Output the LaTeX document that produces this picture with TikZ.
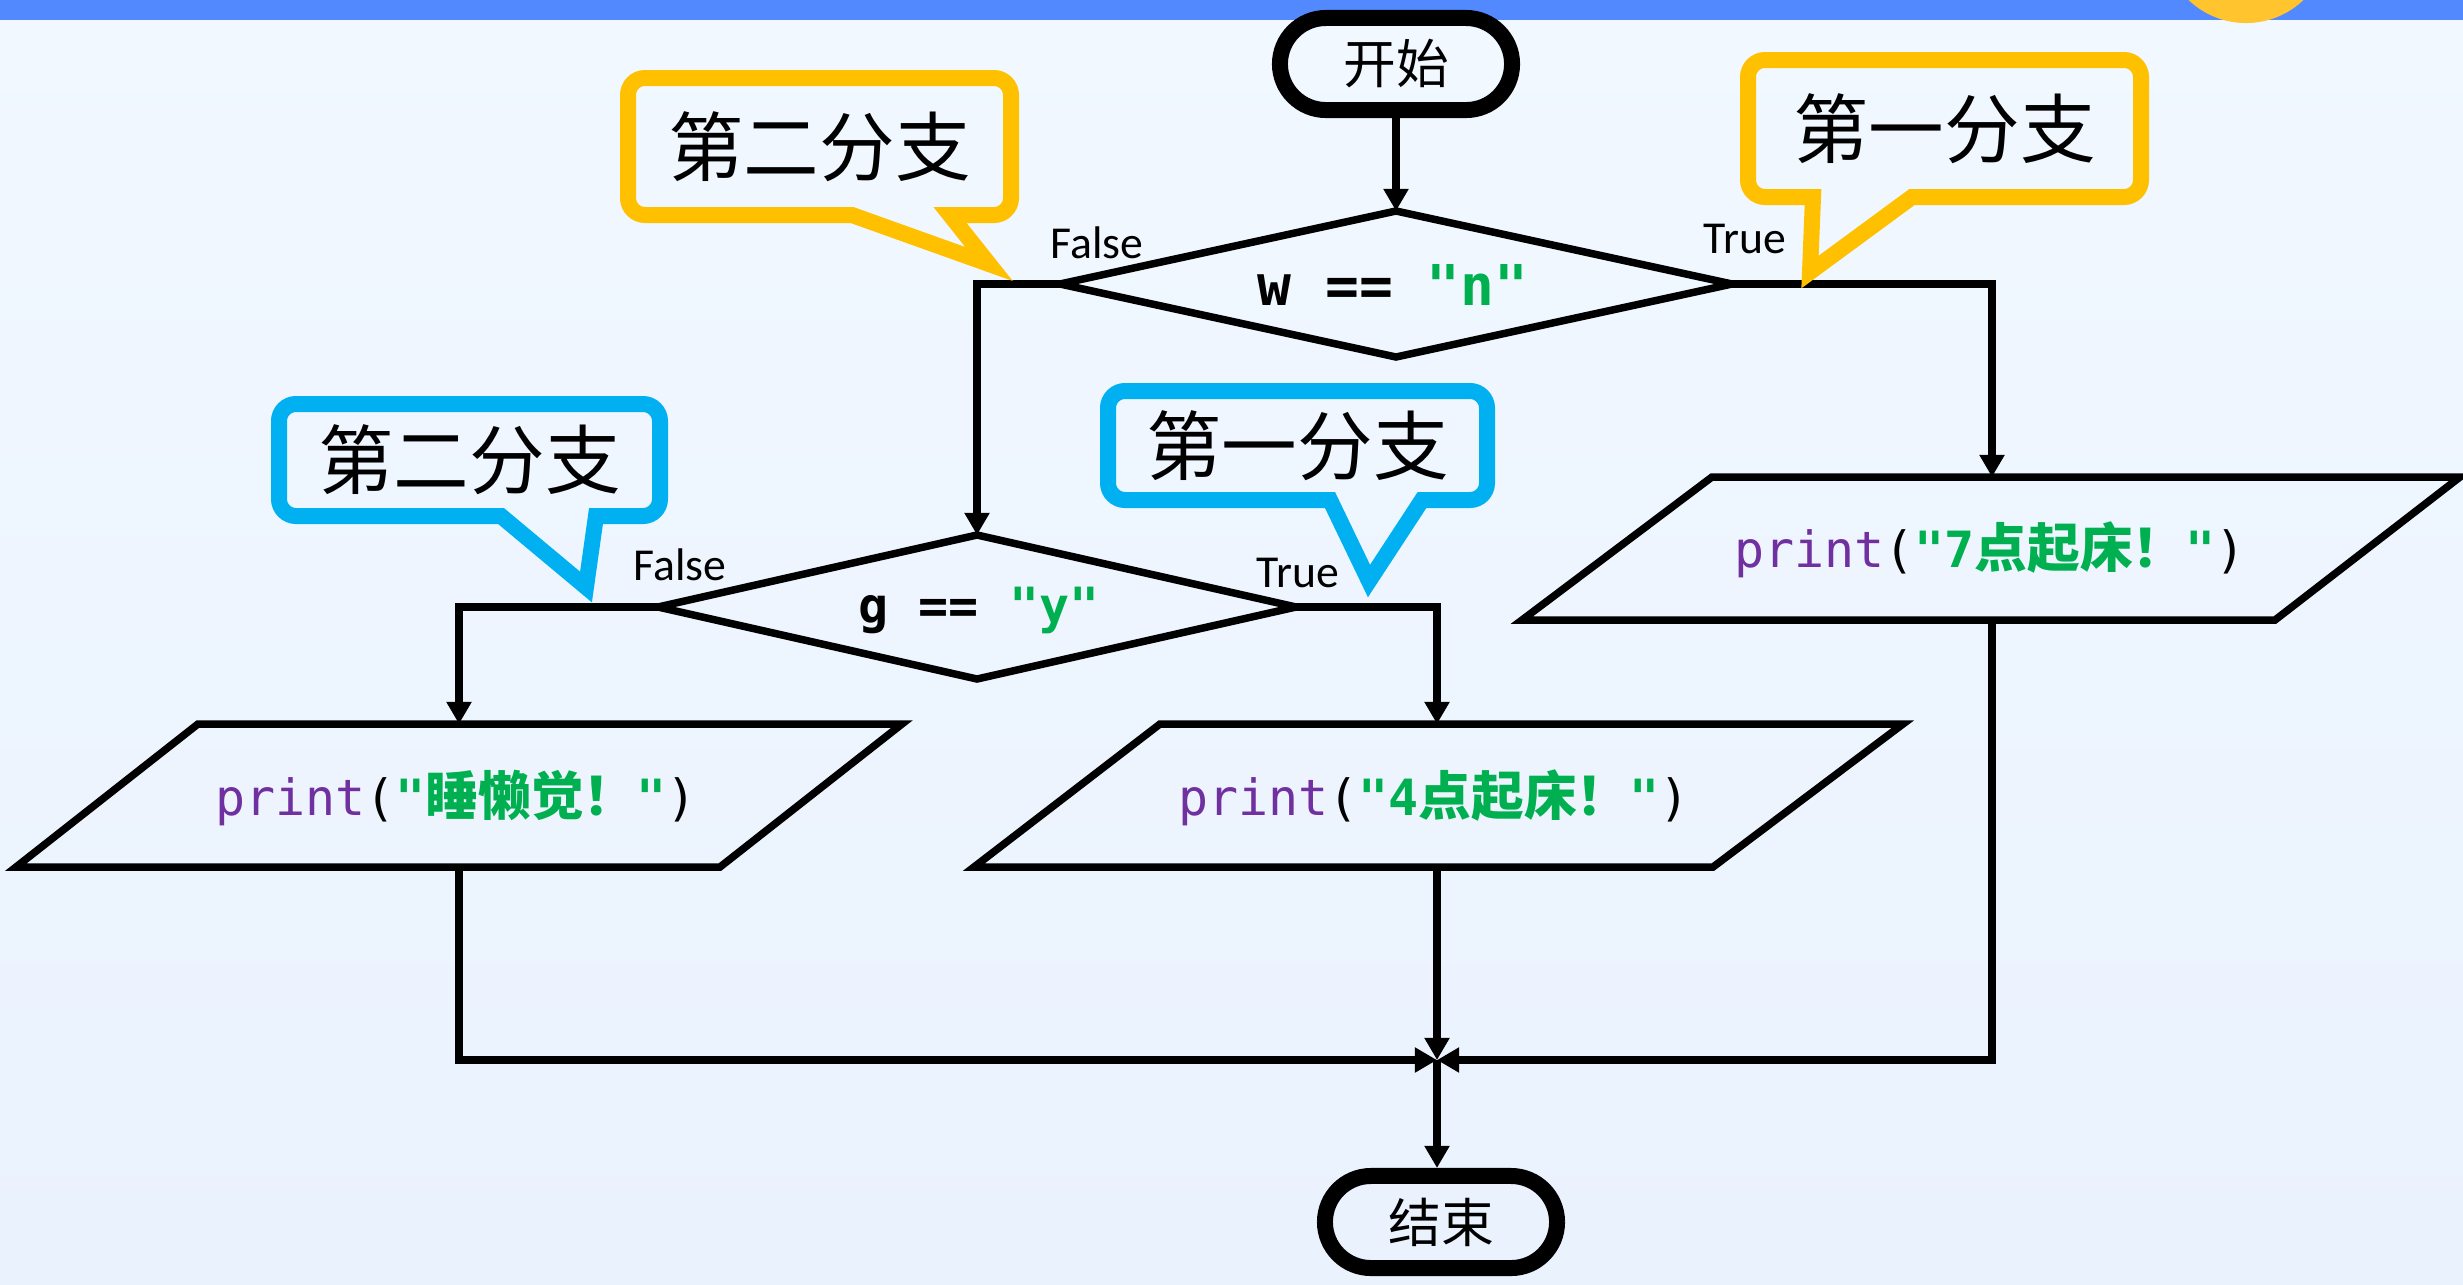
\documentclass[tikz,border=0pt]{standalone}
\usepackage{fontspec}
\setmainfont{Carlito}
\newfontfamily\cjk{Noto Sans CJK SC}
\newfontfamily\mono{DejaVu Sans Mono}
\usetikzlibrary{arrows.meta}
\definecolor{cyel}{HTML}{FFC000}
\definecolor{cblu}{HTML}{00B0F0}
\definecolor{cgrn}{HTML}{00B050}
\definecolor{cpur}{HTML}{7030A0}
\definecolor{band}{RGB}{82,137,255}
\definecolor{bgtop}{RGB}{241,248,255}
\definecolor{bgbot}{RGB}{234,242,254}
\definecolor{corange}{RGB}{255,196,46}
\newcommand\pstr[1]{{\cjk\bfseries\fontsize{15pt}{18pt}\selectfont #1}}
% callout outline: #1 colour, #2 x0, #3 y0, #4 x1, #5 y1, #6 tail left x, #7 tip x, #8 tip y, #9 tail right x
\newcommand\mybubble[9]{%
  \draw[line width=4.55pt,draw=#1,line join=miter,miter limit=10]
  ({#2+17},#3) -- ({#4-17},#3) .. controls ({#4-7.6},#3) and (#4,{#3+7.6}) .. (#4,{#3+17})
  -- (#4,{#5-17}) .. controls (#4,{#5-7.6}) and ({#4-7.6},#5) .. ({#4-17},#5)
  -- (#9,#5) -- (#7,#8) -- (#6,#5)
  -- ({#2+17},#5) .. controls ({#2+7.6},#5) and (#2,{#5-7.6}) .. (#2,{#5-17})
  -- (#2,{#3+17}) .. controls (#2,{#3+7.6}) and ({#2+7.6},#3) .. ({#2+17},#3) -- cycle;}
\begin{document}
\begin{tikzpicture}[x=0.01cm,y=-0.01cm,
  shp/.style={draw=black,line width=2.13pt,line join=miter},
  conn/.style={draw=black,line width=2.13pt,-{Triangle[length=6.3pt,width=6.8pt]}},
  term/.style={draw=black,line width=4.55pt,rounded corners=0.46cm,minimum width=2.32cm,minimum height=0.92cm,inner sep=0pt,font=\cjk\fontsize{15pt}{18pt}\selectfont},
  lbl/.style={inner sep=0pt,anchor=base west,font=\fontsize{13pt}{15pt}\selectfont},
  code/.style={inner sep=0pt,anchor=base,font=\mono\fontsize{14.2pt}{17pt}\selectfont},
  tag/.style={inner sep=0pt,font=\cjk\fontsize{21.5pt}{26pt}\selectfont}]
\useasboundingbox (0,0) rectangle (2463,1284);
\shade[top color=bgtop,bottom color=bgbot] (0,0) rectangle (2463,1284);
\fill[band] (0,0) rectangle (2463,20);
\begin{scope}
  \clip (0,0) rectangle (2463,1284);
  \fill[corange] (2246,-60) circle[radius=0.83cm];
\end{scope}

% terminals
\node[term] (start) at (1396,64) {开始};
\node[term] (stop) at (1441,1222) {结束};

% decision 1
\coordinate (d1n) at (1396,211);
\coordinate (d1e) at (1732,284);
\coordinate (d1s) at (1396,357);
\coordinate (d1w) at (1060,284);
\draw[shp] (d1n) -- (d1e) -- (d1s) -- (d1w) -- cycle;
\node[code,font=\mono\bfseries\fontsize{16pt}{19pt}\selectfont] (d1) at (1393,305) {w == \textcolor{cgrn}{"n"}};

% decision 2
\coordinate (d2n) at (977,535);
\coordinate (d2e) at (1296,607);
\coordinate (d2s) at (977,679);
\coordinate (d2w) at (658,607);
\draw[shp] (d2n) -- (d2e) -- (d2s) -- (d2w) -- cycle;
\node[code,font=\mono\bfseries\fontsize{14.2pt}{17pt}\selectfont] (d2) at (979,623) {g == \textcolor{cgrn}{"y"}};

% output 1
\draw[shp] (198,724) -- (902,724) -- (720,867) -- (16,867) -- cycle;
\coordinate (p1n) at (459,724);
\coordinate (p1s) at (459,867);
\node[code] (p1) at (456,815) {\textcolor{cpur}{print}(\textcolor{cgrn}{\bfseries"\pstr{睡懒觉！}"})};

% output 2
\draw[shp] (1160,724) -- (1903,724) -- (1713,867) -- (974,867) -- cycle;
\coordinate (p2n) at (1437,724);
\coordinate (p2s) at (1437,867);
\node[code] (p2) at (1434,815) {\textcolor{cpur}{print}(\textcolor{cgrn}{\bfseries"4\pstr{点起床！}"})};

% output 3
\draw[shp] (1712,477) -- (2460,477) -- (2275,620) -- (1522,620) -- cycle;
\coordinate (p3n) at (1992,477);
\coordinate (p3s) at (1992,620);
\node[code] (p3) at (1990,567) {\textcolor{cpur}{print}(\textcolor{cgrn}{\bfseries"7\pstr{点起床！}"})};

% connectors
\coordinate (m) at (1437,1060);
\draw[conn] (start.south) -- (d1n);
\draw[conn] (d1w) -| (d2n);
\draw[conn] (d1e) -| (p3n);
\draw[conn] (d2w) -| (p1n);
\draw[conn] (d2e) -| (p2n);
\draw[conn] (p2s) -- (m);
\draw[conn] (p1s) |- (m);
\draw[conn] (p3s) |- (m);
\draw[conn] (m) -- (m |- stop.north);

% branch labels
\node[lbl] (f1) at (1050,258) {False};
\node[lbl] (t1) at (1703,253) {True};
\node[lbl] (f2) at (633,580) {False};
\node[lbl] (t2) at (1256,587) {True};

% callouts
\mybubble{cyel}{628}{78}{1011}{215}{852}{989}{264}{950}
\node[tag] (c1) at (819.5,146.5) {第二分支};
\mybubble{cyel}{1748}{60}{2141}{197}{1813}{1810}{272}{1912}
\node[tag] (c2) at (1944.5,128.5) {第一分支};
\mybubble{cblu}{279}{404}{660}{516}{501}{586}{587}{596}
\node[tag] (c3) at (469.5,460) {第二分支};
\mybubble{cblu}{1108}{391}{1487}{500}{1330}{1369}{581}{1422}
\node[tag] (c4) at (1297.5,445.5) {第一分支};
\end{tikzpicture}
\end{document}
